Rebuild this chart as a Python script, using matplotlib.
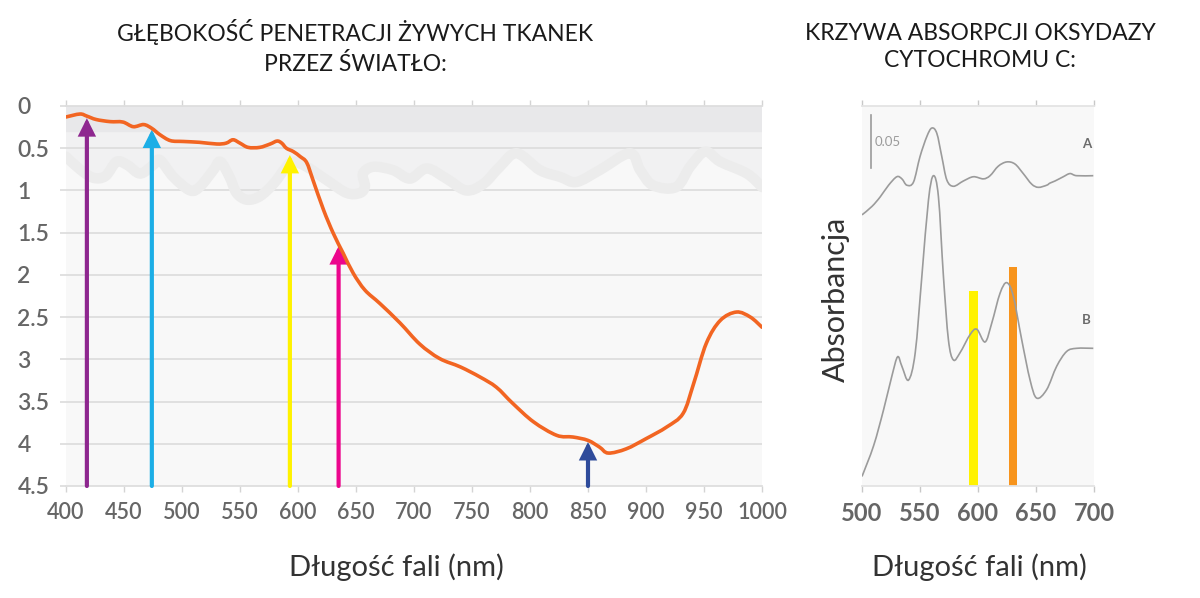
import numpy as np
import matplotlib
matplotlib.use("Agg")
import matplotlib.pyplot as plt
from matplotlib.path import Path
from matplotlib.patches import PathPatch

plt.rcParams['font.family'] = ['Lato', 'DejaVu Sans']

# --- left chart: penetration depth (mm) vs wavelength (nm)
depth_x = [400, 412, 418, 426, 438, 449, 458, 467, 474, 481, 490, 501, 515, 530, 538, 544,
           550, 557, 567, 576, 582, 586, 590, 596, 602, 607.5, 613, 622, 630.5, 639, 647.6,
           657.7, 670.7, 688, 705, 722, 740, 757, 771, 785, 803, 823, 837, 850, 860, 867.5,
           883, 900, 918, 932, 941, 952, 964, 978, 990, 1000]
depth_y = [0.13, 0.095, 0.12, 0.16, 0.185, 0.19, 0.245, 0.22, 0.265, 0.34, 0.41, 0.42, 0.43,
           0.45, 0.44, 0.40, 0.44, 0.49, 0.49, 0.45, 0.415, 0.44, 0.50, 0.54, 0.60, 0.67, 0.88,
           1.23, 1.51, 1.745, 1.98, 2.18, 2.34, 2.57, 2.82, 2.99, 3.09, 3.21, 3.33, 3.52, 3.74,
           3.90, 3.92, 3.96, 4.04, 4.11, 4.06, 3.94, 3.80, 3.64, 3.29, 2.81, 2.54, 2.44, 2.50, 2.62]

# skin-surface decoration
wave_x = [400, 412, 423.5, 434, 443.7, 453, 464, 475, 481, 492.5, 507, 515.5, 527, 533, 541,
          547, 556, 567, 579, 590, 596, 607.5, 625, 642, 653.4, 657.7, 656, 665, 682, 696.5,
          711, 728, 745, 760, 774, 788.5, 808.6, 826, 840, 860, 886, 895, 906, 926, 938, 951,
          964, 987, 1000]
wave_y = [0.60, 0.75, 0.85, 0.83, 0.66, 0.70, 0.80, 0.70, 0.64, 0.84, 1.0, 0.955, 0.76, 0.66,
          0.84, 1.03, 1.11, 1.07, 0.92, 0.72, 0.66, 0.72, 0.88, 1.03, 1.03, 0.95, 0.80, 0.72,
          0.76, 0.86, 0.74, 0.86, 1.0, 0.92, 0.72, 0.56, 0.76, 0.84, 0.90, 0.76, 0.56, 0.76,
          0.94, 0.96, 0.72, 0.54, 0.66, 0.80, 0.96]

arrow_x = [418, 474, 593, 635, 850]
arrow_tip = [0.145, 0.28, 0.58, 1.66, 3.98]
arrow_col = ['#8e278f', '#1caee6', '#fff200', '#ec068d', '#2e4b9b']

depth_ticks = [0, 0.5, 1, 1.5, 2, 2.5, 3, 3.5, 4, 4.5]
depth_labels = ['0', '0.5', '1', '1.5', '2', '2.5', '3', '3.5', '4', '4.5']
wl_ticks = list(range(400, 1001, 50))

# --- right chart: cytochrome c oxidase absorbance
abs_x = [500, 508.6, 515.7, 522.9, 530, 534.4, 538.7, 544.4, 550, 555.9, 560.2, 564.5, 568.8,
         573.1, 578.8, 587.4, 596, 604.6, 610.4, 617.5, 624.8, 631.9, 639, 646.3, 652, 659.2,
         662, 666.4, 673.5, 679.3, 685, 699.4]
abs_a = [0.256, 0.264, 0.273, 0.284, 0.292, 0.290, 0.284, 0.287, 0.311, 0.330, 0.338, 0.333,
         0.311, 0.289, 0.283, 0.288, 0.292, 0.290, 0.293, 0.302, 0.306, 0.304, 0.295, 0.285,
         0.282, 0.284, 0.286, 0.288, 0.292, 0.295, 0.293, 0.293]
abs_bx = [500, 510, 518.6, 525.8, 530.7, 534.4, 540.1, 545.9, 551.6, 557.3, 561.6, 565.9, 570.2,
          574.5, 578.8, 584.6, 593.2, 599, 606.1, 611.9, 619, 624.8, 630.5, 637.7, 644.9, 650.6,
          659.2, 667.8, 676.4, 685, 699.4]
abs_b = [0.009, 0.038, 0.072, 0.104, 0.122, 0.113, 0.100, 0.126, 0.198, 0.270, 0.293, 0.273,
         0.198, 0.138, 0.119, 0.126, 0.143, 0.148, 0.136, 0.154, 0.182, 0.192, 0.179, 0.138,
         0.100, 0.083, 0.091, 0.113, 0.127, 0.130, 0.130]
bar_x = [596, 630]
bar_h = [0.184, 0.207]
bar_col = ['#fff200', '#f7941d']
abs_ticks = [500, 550, 600, 650, 700]


def smooth(xs, ys):
    # catmull-rom through the read points, drawn as bezier curves
    p = np.column_stack([xs, ys]).astype(float)
    n = len(p)
    verts = [p[0]]
    codes = [Path.MOVETO]
    for i in range(n - 1):
        p0 = p[max(i - 1, 0)]
        p1 = p[i]
        p2 = p[i + 1]
        p3 = p[min(i + 2, n - 1)]
        verts += [p1 + (p2 - p0) / 6, p2 - (p3 - p1) / 6, p2]
        codes += [Path.CURVE4] * 3
    return verts, codes


grey = '#666666'
gridc = '#dedede'
bg = '#f8f8f8'

fig = plt.figure(figsize=(12, 5.98), dpi=100)

# left axes
ax = fig.add_axes([66 / 1200, 112 / 598, 696 / 1200, 380 / 598])
ax.set_xlim(400, 1000)
ax.set_ylim(4.5, 0)
ax.set_facecolor(bg)
ax.axhspan(0, 0.31, color='#e8e8ea', zorder=0.5)
v, c = smooth(wave_x, wave_y)
v = [np.array([400, 0.31])] + v + [np.array([1000, 0.31])]
c = [Path.MOVETO, Path.LINETO] + c[1:] + [Path.LINETO]
ax.add_patch(PathPatch(Path(v, c), facecolor='#f1f1f2', edgecolor='none', zorder=0.6))
for t in depth_ticks[1:-1]:
    ax.axhline(t, color=gridc, lw=1.3, zorder=0.8)
v, c = smooth(wave_x, wave_y)
ax.add_patch(PathPatch(Path(v, c), fill=False, edgecolor='#ececec', lw=7.5,
                       capstyle='round', joinstyle='round', zorder=1))

for x, tip, col in zip(arrow_x, arrow_tip, arrow_col):
    ax.annotate('', xy=(x, tip), xytext=(x, 4.5),
                arrowprops=dict(arrowstyle='-|>', color=col, lw=3, mutation_scale=21,
                                shrinkA=0, shrinkB=0, joinstyle='miter'), zorder=3)

v, c = smooth(depth_x, depth_y)
ax.add_patch(PathPatch(Path(v, c), fill=False, edgecolor='#f26522', lw=2.6,
                       capstyle='round', zorder=4))

for s in ['left', 'right']:
    ax.spines[s].set_visible(False)
for s in ['top', 'bottom']:
    ax.spines[s].set_color(gridc)
    ax.spines[s].set_linewidth(1.3)
ax.set_xticks(wl_ticks)
ax.set_yticks(depth_ticks)
ax.set_yticklabels(depth_labels)
ax.tick_params(axis='x', top=True, bottom=True, direction='out', length=4.5, width=1,
               color='#d4d4d4', labelsize=15.5, labelcolor=grey, pad=7)
ax.tick_params(axis='y', length=4, width=1.3, color=gridc, labelsize=16.5, labelcolor=grey, pad=31)
for lab in ax.get_yticklabels():
    lab.set_horizontalalignment('left')
    lab.set_fontweight('semibold')
for lab in ax.get_xticklabels():
    lab.set_fontweight('semibold')

# right axes
ax2 = fig.add_axes([862 / 1200, 112 / 598, 232 / 1200, 380 / 598])
ax2.set_xlim(500, 700)
ax2.set_ylim(0, 0.3588)
ax2.set_facecolor(bg)
ax2.bar(bar_x, bar_h, width=7.2, color=bar_col, zorder=2)
v, c = smooth(abs_x, abs_a)
ax2.add_patch(PathPatch(Path(v, c), fill=False, edgecolor='#9b9b9b', lw=1.2, zorder=3))
v, c = smooth(abs_bx, abs_b)
ax2.add_patch(PathPatch(Path(v, c), fill=False, edgecolor='#9b9b9b', lw=1.2, zorder=3))
ax2.plot([508, 508], [0.300, 0.350], color='#9b9b9b', lw=1.2)
ax2.text(510.5, 0.325, '0.05', fontsize=9.5, color='#9b9b9b', va='center', ha='left')
ax2.text(694, 0.323, 'A', fontsize=9.5, color='#6b6b6b', fontweight='bold', ha='center', va='center')
ax2.text(693, 0.157, 'B', fontsize=9.5, color='#6b6b6b', fontweight='bold', ha='center', va='center')
for s in ['left', 'right']:
    ax2.spines[s].set_visible(False)
for s in ['top', 'bottom']:
    ax2.spines[s].set_color('#e4e4e4')
    ax2.spines[s].set_linewidth(1.3)
ax2.set_yticks([])
ax2.set_xticks(abs_ticks)
ax2.tick_params(axis='x', top=True, bottom=True, direction='out', length=4.5, width=1,
                color='#c8c8c8', labelsize=17, labelcolor=grey, pad=7)
for lab in ax2.get_xticklabels():
    lab.set_fontweight('bold')

# texts
fig.text(355 / 1200, 1 - 47 / 598, 'GŁĘBOKOŚĆ PENETRACJI ŻYWYCH TKANEK\nPRZEZ ŚWIATŁO:',
         ha='center', va='center', fontsize=16.5, color='#1a1a1a', linespacing=1.4)
fig.text(980 / 1200, 1 - 47 / 598, 'KRZYWA ABSORPCJI OKSYDAZY\nCYTOCHROMU C:',
         ha='center', va='center', fontsize=16.5, color='#1a1a1a', linespacing=1.4)
fig.text(396 / 1200, 1 - 567 / 598, 'Długość fali (nm)', ha='center', va='center',
         fontsize=21, color='#333333')
fig.text(979 / 1200, 1 - 567 / 598, 'Długość fali (nm)', ha='center', va='center',
         fontsize=21, color='#333333')
fig.text(836 / 1200, 1 - 299 / 598, 'Absorbancja', ha='center', va='center', rotation=90,
         fontsize=22, color='#333333')

fig.savefig('out.png', dpi=100)
